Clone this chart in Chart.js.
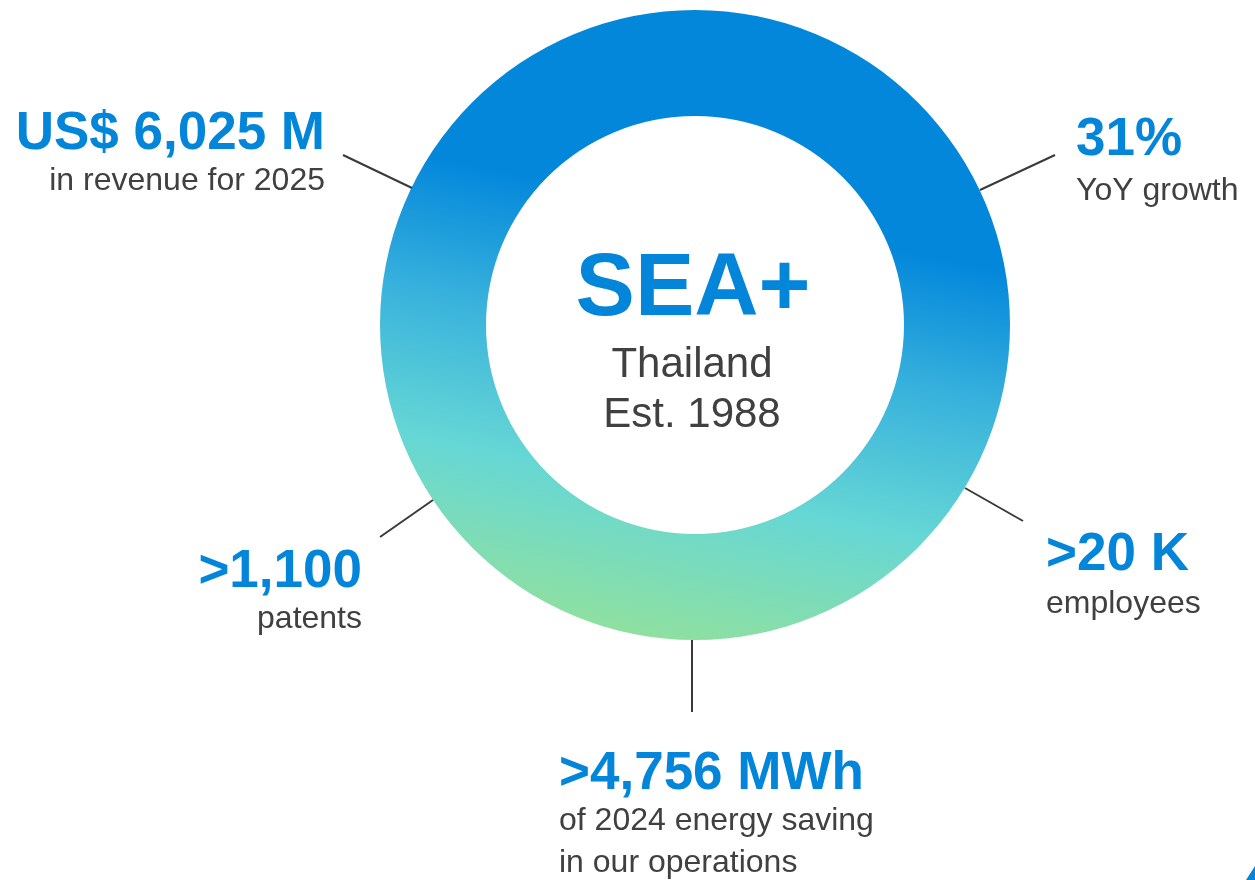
<!DOCTYPE html>
<html>
<head>
<meta charset="utf-8">
<script src="https://cdn.jsdelivr.net/npm/chart.js@4/dist/chart.umd.min.js"></script>
<style>
  html, body { margin: 0; padding: 0; background: #fff; }
  canvas { display: block; }
</style>
</head>
<body>
<canvas id="ringChart" width="1255" height="880"></canvas>
<script>
// ring data (one continuous ring)
const ringLabels = ['SEA+ Thailand'];
const ringValues = [100];

// centre text
const centerTitle = 'SEA+';
const centerLines = ['Thailand', 'Est. 1988'];

// key figures around the ring
const statValues = ['US$ 6,025 M', '31%', '>20 K', '>4,756 MWh', '>1,100'];
const statCaptions = [
  ['in revenue for 2025'],
  ['YoY growth'],
  ['employees'],
  ['of 2024 energy saving', 'in our operations'],
  ['patents']
];

const BLUE = '#0386DA';
const GREY = '#404040';
const FONT = '"Liberation Sans", Arial, Helvetica, sans-serif';

// where each figure sits and its leader line
const statLayout = [
  { align: 'right', x: 325, y: 149, caps: [190], line: [343, 155, 412, 188] },
  { align: 'left', x: 1076, y: 155, caps: [200], line: [980, 190, 1055, 155] },
  { align: 'left', x: 1046, y: 570, caps: [613], line: [965, 488, 1023, 521] },
  { align: 'left', x: 559, y: 789, caps: [830, 872], line: [692, 640, 692, 712] },
  { align: 'right', x: 362, y: 587, caps: [628], line: [433, 500, 380, 537] }
];

function ringGradient(context) {
  const chart = context.chart;
  const area = chart.chartArea;
  if (!area) return BLUE;
  const cx = (area.left + area.right) / 2;
  const cy = (area.top + area.bottom) / 2;
  const r = Math.min(area.right - area.left, area.bottom - area.top) / 2;
  // tilted a bit: blue top-right, green bottom-left
  const dx = -0.196, dy = 0.981;
  const g = chart.ctx.createLinearGradient(cx - dx * r, cy - dy * r, cx + dx * r, cy + dy * r);
  g.addColorStop(0, '#0387DB');
  g.addColorStop(0.32, '#0387DB');
  g.addColorStop(0.54, '#3AB3DC');
  g.addColorStop(0.76, '#66D7D5');
  g.addColorStop(1, '#8FE0A0');
  return g;
}

const labelsPlugin = {
  id: 'labelsPlugin',
  afterDraw(chart) {
    const ctx = chart.ctx;
    const meta = chart.getDatasetMeta(0);
    const arc = meta.data[0];
    const cx = arc.x, cy = arc.y;
    ctx.save();

    // leader lines
    ctx.strokeStyle = '#3a3a3a';
    ctx.lineWidth = 2;
    statLayout.forEach(l => {
      ctx.beginPath();
      ctx.moveTo(l.line[0], l.line[1]);
      ctx.lineTo(l.line[2], l.line[3]);
      ctx.stroke();
    });

    // figures + captions
    ctx.textBaseline = 'alphabetic';
    statValues.forEach((val, i) => {
      const l = statLayout[i];
      ctx.textAlign = l.align;
      ctx.fillStyle = BLUE;
      ctx.font = 'bold 53px ' + FONT;
      ctx.fillText(val, l.x, l.y);
      ctx.fillStyle = GREY;
      ctx.font = '32px ' + FONT;
      statCaptions[i].forEach((c, j) => ctx.fillText(c, l.x, l.caps[j]));
    });

    // centre text
    ctx.textAlign = 'center';
    ctx.fillStyle = BLUE;
    ctx.font = 'bold 89px ' + FONT;
    ctx.fillText(centerTitle, cx - 2, cy - 10);
    ctx.fillStyle = GREY;
    ctx.font = '42px ' + FONT;
    ctx.fillText(centerLines[0], cx - 3, cy + 52);
    ctx.fillText(centerLines[1], cx - 3, cy + 102);

    // small corner mark
    ctx.fillStyle = BLUE;
    ctx.beginPath();
    ctx.moveTo(1255, 866);
    ctx.lineTo(1255, 880);
    ctx.lineTo(1246, 880);
    ctx.closePath();
    ctx.fill();
    ctx.restore();
  }
};

new Chart(document.getElementById('ringChart').getContext('2d'), {
  type: 'doughnut',
  data: {
    labels: ringLabels,
    datasets: [{
      data: ringValues,
      backgroundColor: ringGradient,
      borderWidth: 0,
      hoverOffset: 0
    }]
  },
  options: {
    responsive: false,
    animation: false,
    radius: 315,
    cutout: 209,
    layout: { padding: { left: 380, right: 245, top: 10, bottom: 240 } },
    plugins: {
      legend: { display: false },
      tooltip: { enabled: false }
    }
  },
  plugins: [labelsPlugin]
});
</script>
</body>
</html>
